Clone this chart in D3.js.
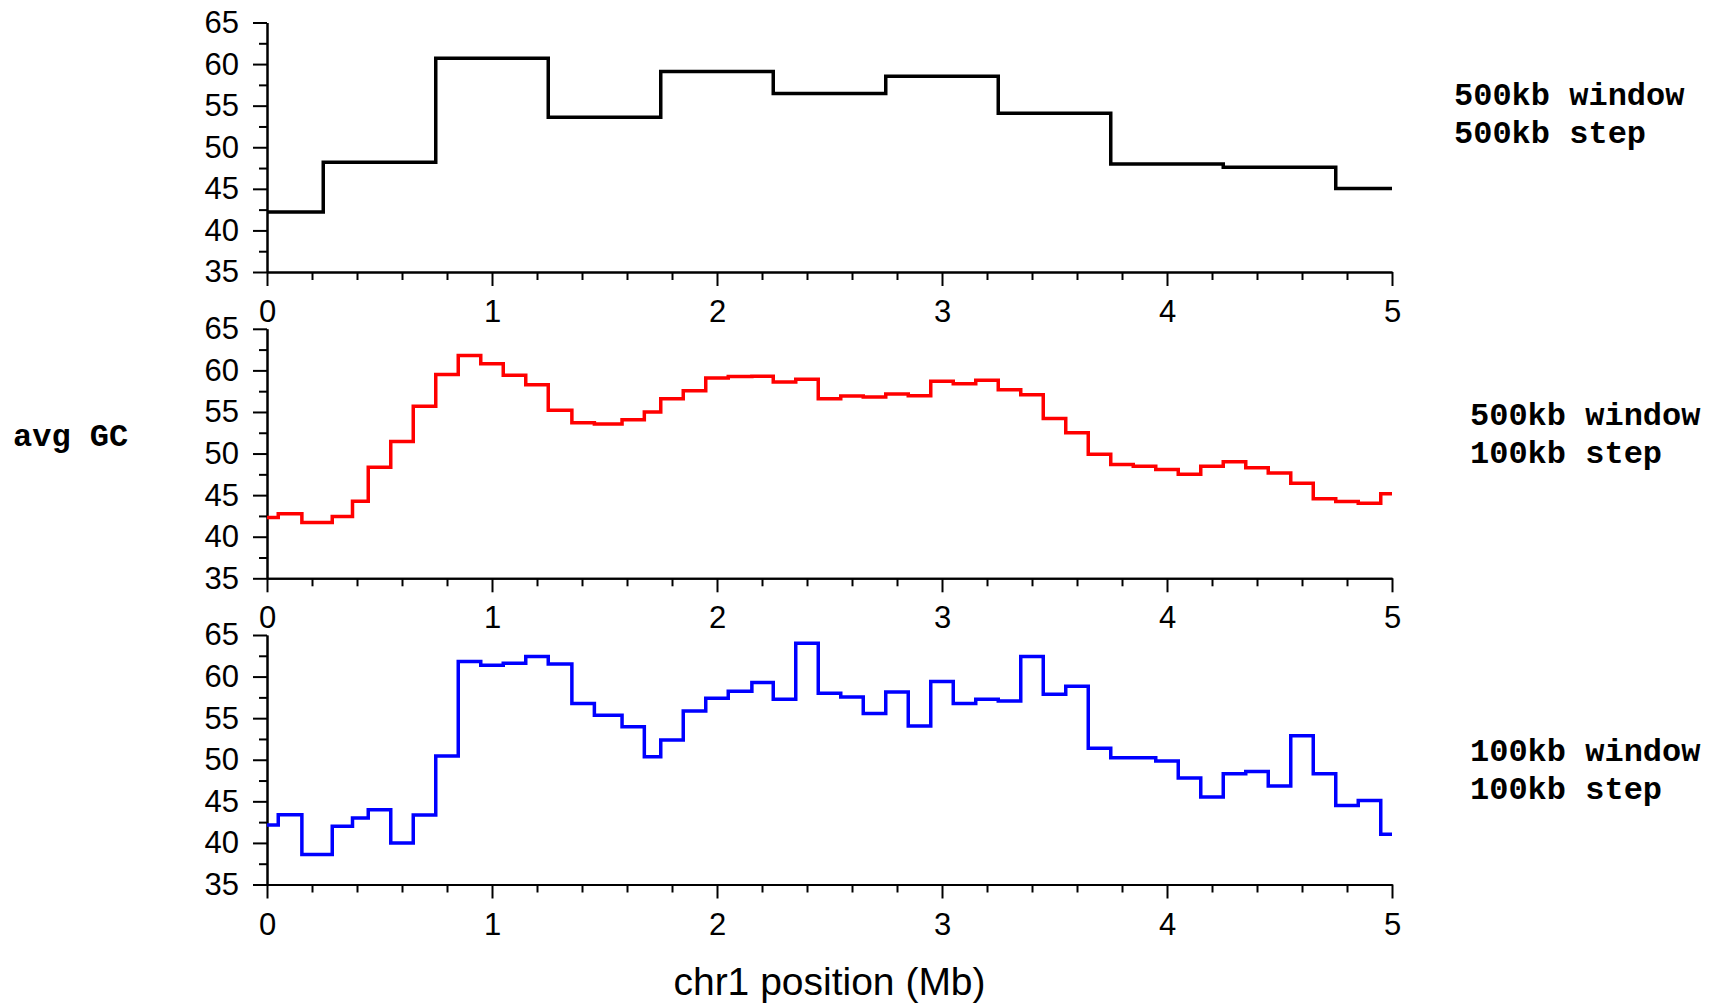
<!DOCTYPE html>
<html>
<head>
<meta charset="utf-8">
<script src="https://cdn.jsdelivr.net/npm/d3@7"></script>
<style>
  html, body { margin: 0; padding: 0; background: #fff; }
  svg { display: block; }
</style>
</head>
<body>
<div id="chart"></div>
<script>
// window start positions (Mb) and avg GC per window
const edges500 = [0, 0.25, 0.75, 1.25, 1.75, 2.25, 2.75, 3.25, 3.75, 4.25, 4.75];
const gc500w500s = [42.2, 48.2, 60.7, 53.6, 59.1, 56.45, 58.55, 54.1, 48.0, 47.6, 45.05];

const edges100 = [0, 0.05, 0.155, 0.29, 0.38, 0.45, 0.55, 0.65, 0.75, 0.85,
    0.95, 1.05, 1.15, 1.25, 1.355, 1.455, 1.578, 1.677, 1.75, 1.85,
    1.95, 2.05, 2.155, 2.25, 2.35, 2.45, 2.55, 2.65, 2.75, 2.85,
    2.95, 3.05, 3.15, 3.25, 3.35, 3.45, 3.55, 3.65, 3.75, 3.85,
    3.95, 4.05, 4.15, 4.25, 4.35, 4.45, 4.55, 4.65, 4.75, 4.85, 4.95];
const gc500w100s = [42.3, 42.75, 41.7, 42.42, 44.27, 48.36, 51.45, 55.7, 59.5, 61.8,
    60.8, 59.4, 58.27, 55.2, 53.7, 53.54, 54.06, 55.0, 56.6, 57.55,
    59.08, 59.25, 59.28, 58.6, 58.92, 56.59, 56.91, 56.79, 57.15, 56.95,
    58.68, 58.4, 58.8, 57.67, 57.07, 54.22, 52.49, 49.92, 48.68, 48.48,
    48.07, 47.51, 48.48, 49.0, 48.28, 47.67, 46.43, 44.58, 44.22, 44.02, 45.18];
const gc100w100s = [42.14, 43.39, 38.6, 42.0, 43.0, 43.99, 39.98, 43.35, 50.45, 61.8,
    61.36, 61.6, 62.4, 61.5, 56.75, 55.35, 53.98, 50.37, 52.38, 55.87,
    57.39, 58.23, 59.28, 57.27, 64.01, 57.99, 57.55, 55.55, 58.15, 54.06,
    59.4, 56.75, 57.27, 57.07, 62.41, 57.87, 58.84, 51.37, 50.25, 50.25,
    49.85, 47.8, 45.51, 48.32, 48.6, 46.84, 52.88, 48.31, 44.51, 45.11, 41.03];

const xTicks = [0, 1, 2, 3, 4, 5];
const xMinorTicks = [0.2, 0.4, 0.6, 0.8, 1.2, 1.4, 1.6, 1.8, 2.2, 2.4, 2.6, 2.8,
    3.2, 3.4, 3.6, 3.8, 4.2, 4.4, 4.6, 4.8];
const yTicks = [35, 40, 45, 50, 55, 60, 65];
const yMinorTicks = [37.5, 42.5, 47.5, 52.5, 57.5, 62.5];

const panelLabels = [
    ["500kb window", "500kb step"],
    ["500kb window", "100kb step"],
    ["100kb window", "100kb step"]
];

const width = 1717, height = 1005;
const left = 267, right = 1392;
const panelTops = [22.5, 328.8, 635];
const panelH = 249.5;

const panels = [
    { edges: edges500, values: gc500w500s, color: "#000000", labelX: 1454 },
    { edges: edges100, values: gc500w100s, color: "#ff0000", labelX: 1470 },
    { edges: edges100, values: gc100w100s, color: "#0000ff", labelX: 1470 }
];

const svg = d3.select("#chart").append("svg")
    .attr("width", width)
    .attr("height", height);

const x = d3.scaleLinear().domain([0, 5]).range([left, right]);

const tickFont = "'Liberation Sans', Arial, sans-serif";
const monoFont = "'Liberation Mono', 'Courier New', monospace";

function styleAxis(g) {
    g.selectAll("path.domain").attr("stroke", "#000").attr("stroke-width", 2);
    g.selectAll(".tick line").attr("stroke", "#000").attr("stroke-width", 2);
    g.selectAll(".tick text")
        .attr("fill", "#000")
        .style("font-family", tickFont)
        .style("font-size", "31px");
}

panels.forEach((p, i) => {
    const top = panelTops[i];
    const y = d3.scaleLinear().domain([35, 65]).range([top + panelH, top]);
    const g = svg.append("g");

    // minor ticks first, then major axes on top
    g.append("g")
        .attr("transform", `translate(0, ${top + panelH})`)
        .call(d3.axisBottom(x).tickValues(xMinorTicks).tickSize(8).tickSizeOuter(0).tickFormat(""))
        .call(styleAxis);
    g.append("g")
        .attr("transform", `translate(${left}, 0)`)
        .call(d3.axisLeft(y).tickValues(yMinorTicks).tickSize(8).tickSizeOuter(0).tickFormat(""))
        .call(styleAxis);

    g.append("g")
        .attr("transform", `translate(0, ${top + panelH})`)
        .call(d3.axisBottom(x).tickValues(xTicks).tickSize(14).tickPadding(14).tickSizeOuter(0).tickFormat(d3.format("d")))
        .call(styleAxis);
    g.append("g")
        .attr("transform", `translate(${left}, 0)`)
        .call(d3.axisLeft(y).tickValues(yTicks).tickSize(14).tickPadding(14).tickSizeOuter(0).tickFormat(d3.format("d")))
        .call(styleAxis);

    const pts = p.edges.map((e, k) => [e, p.values[k]]);
    pts.push([x.domain()[1], p.values[p.values.length - 1]]);

    const line = d3.line()
        .x(d => x(d[0]))
        .y(d => y(d[1]))
        .curve(d3.curveStepAfter);

    g.append("path")
        .datum(pts)
        .attr("fill", "none")
        .attr("stroke", p.color)
        .attr("stroke-width", 3.5)
        .attr("stroke-linejoin", "miter")
        .attr("stroke-linecap", "butt")
        .attr("d", line);

    // window / step label on the right
    const midY = top + panelH * 0.3;
    panelLabels[i].forEach((txt, k) => {
        g.append("text")
            .attr("x", p.labelX)
            .attr("y", [105, 425, 761][i] + k * 38)
            .attr("fill", "#000")
            .style("font-family", monoFont)
            .style("font-weight", "bold")
            .style("font-size", "32px")
            .style("white-space", "pre")
            .text(txt);
    });
});

svg.append("text")
    .attr("x", 13)
    .attr("y", 446)
    .attr("fill", "#000")
    .style("font-family", monoFont)
    .style("font-weight", "bold")
    .style("font-size", "32px")
    .style("white-space", "pre")
    .text("avg GC");

svg.append("text")
    .attr("x", (left + right) / 2)
    .attr("y", 995)
    .attr("text-anchor", "middle")
    .attr("fill", "#000")
    .style("font-family", tickFont)
    .style("font-size", "39px")
    .text("chr1 position (Mb)");
</script>
</body>
</html>
